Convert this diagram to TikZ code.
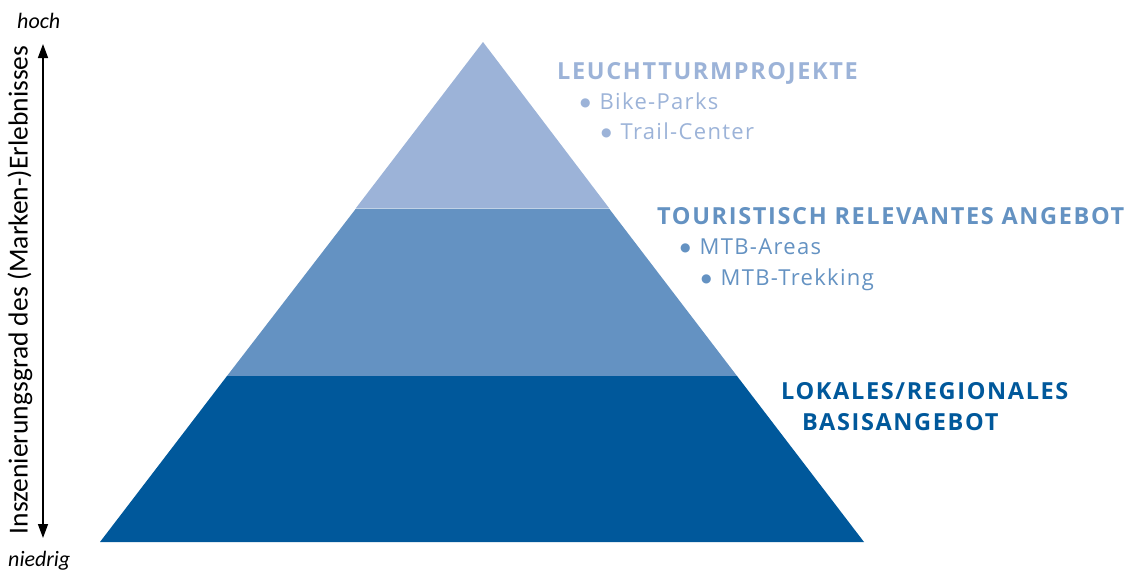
\documentclass[tikz,border=0pt]{standalone}
\usepackage{fontspec}
\setmainfont{Open Sans}
\newfontfamily\axfont{Carlito}
\newfontfamily\headfont[LetterSpace=7]{Open Sans}
\newfontfamily\itemfont[LetterSpace=6]{Open Sans}
\newfontfamily\symfont{DejaVu Sans}
\usetikzlibrary{arrows.meta}
\definecolor{lvlA}{RGB}{156,179,216}
\definecolor{lvlB}{RGB}{100,146,194}
\definecolor{lvlC}{RGB}{0,88,155}
\newcommand{\bigbul}{\raisebox{2.5pt}{\symfont\fontsize{12}{12}\selectfont ●}\hspace{9pt}}
\tikzset{
  headtxt/.style={anchor=base west, inner sep=0pt, font=\headfont\fontsize{23.5}{26}\selectfont\bfseries},
  itemtxt/.style={anchor=base west, inner sep=0pt, font=\itemfont\fontsize{22}{26}\selectfont},
  axtxt/.style={inner sep=0pt, font=\axfont\fontsize{27.5}{30}\selectfont},
  endtxt/.style={anchor=base west, inner sep=0pt, font=\axfont\itshape\fontsize{22}{24}\selectfont},
}
\begin{document}
\begin{tikzpicture}[x=1pt,y=-1pt]
\useasboundingbox (0,0) rectangle (1133,573);
% pyramid
\fill[lvlA] (483,42) -- (609,208) -- (356,208) -- cycle;
\fill[lvlB] (356,208.5) -- (609,208.5) -- (737,376) -- (227,376) -- cycle;
\fill[lvlC] (227,376) -- (737,376) -- (864,542) -- (100,542) -- cycle;
% labels
\node[headtxt, text=lvlA] (h1) at (557,79) {LEUCHTTURMPROJEKTE};
\node[itemtxt, text=lvlA] (i1) at (580,109) {\bigbul Bike-Parks};
\node[itemtxt, text=lvlA] (i2) at (601,139) {\bigbul Trail-Center};
\node[headtxt, text=lvlB] (h2) at (657,224) {TOURISTISCH RELEVANTES ANGEBOT};
\node[itemtxt, text=lvlB] (i3) at (680,254) {\bigbul MTB-Areas};
\node[itemtxt, text=lvlB] (i4) at (701,285) {\bigbul MTB-Trekking};
\node[headtxt, text=lvlC] (h3) at (781,399) {LOKALES/REGIONALES};
\node[headtxt, text=lvlC] (h4) at (802,430) {BASISANGEBOT};
% axis
\coordinate (atop) at (43,44);
\coordinate (abot) at (43,538);
\draw[line width=1.5pt, {Triangle[length=14pt,width=10pt]}-{Triangle[length=14pt,width=10pt]}] (atop) -- (abot);
\node[axtxt, rotate=90] (ax) at (20,290) {Inszenierungsgrad des (Marken-)Erlebnisses};
\node[endtxt] (hi) at (17,28) {hoch};
\node[endtxt] (lo) at (8,566) {niedrig};
\end{tikzpicture}
\end{document}
